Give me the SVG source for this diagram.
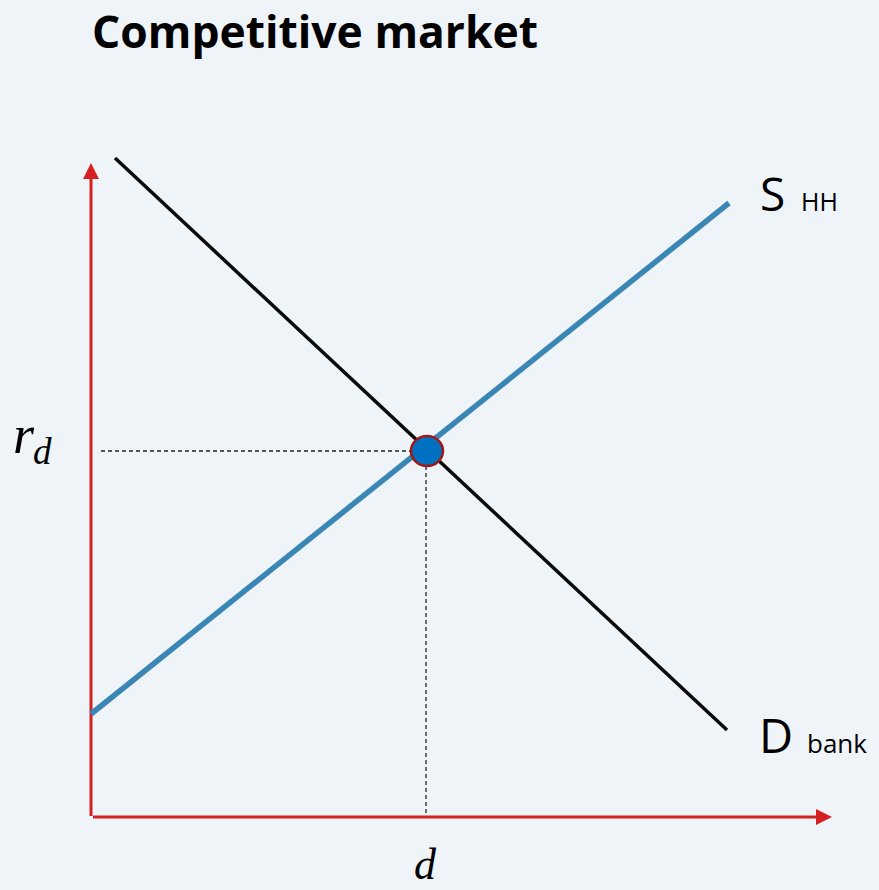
<svg xmlns="http://www.w3.org/2000/svg" width="879" height="890" viewBox="0 0 879 890">
<style>
.t{font-family:"Open Sans","Noto Sans","Liberation Sans",sans-serif;fill:#000}
.m{font-family:"Liberation Serif","DejaVu Serif",serif;font-style:italic;fill:#000}
.axis{stroke:#D42020;stroke-width:3;fill:none}
.dash{stroke:#222;stroke-width:1.3;stroke-dasharray:4 3;fill:none}
</style>
<defs>
<marker id="ah" markerWidth="16" markerHeight="16" refX="1" refY="8" orient="auto" markerUnits="userSpaceOnUse" viewBox="0 0 16 16">
<path d="M0,0 L16,8 L0,16 Z" fill="#D42020"/>
</marker>
</defs>
<rect width="879" height="890" fill="#EFF4F9"/>
<text id="title" class="t" x="92" y="48" font-size="44" font-weight="bold" textLength="446" lengthAdjust="spacingAndGlyphs">Competitive market</text>
<g id="connectors">
<line id="yaxis" class="axis" x1="91" y1="816" x2="91" y2="178" marker-end="url(#ah)"/>
<line id="xaxis" class="axis" x1="93" y1="817" x2="817" y2="817" marker-end="url(#ah)"/>
<line class="dash" x1="101" y1="451" x2="412" y2="451"/>
<line class="dash" x1="426" y1="466" x2="426" y2="816"/>
<line id="demand" x1="115" y1="158" x2="727" y2="730" stroke="#0A0A0A" stroke-width="3.5"/>
<line id="supply" x1="91" y1="714" x2="729" y2="203" stroke="#3A86B5" stroke-width="5.5"/>
</g>
<g id="equilibrium">
<ellipse cx="427" cy="451" rx="16" ry="15" fill="#0070C0" stroke="#A01818" stroke-width="2.5"/>
</g>
<g id="label-s">
<text class="t" x="760" y="211" font-size="46">S</text>
<text class="t" x="801" y="211" font-size="25">HH</text>
</g>
<g id="label-d">
<text class="t" x="759" y="753" font-size="47">D</text>
<text class="t" x="807" y="753" font-size="26">bank</text>
</g>
<g id="label-rd">
<text class="m" x="13" y="453" font-size="54">r</text>
<text class="m" x="33" y="464" font-size="37">d</text>
</g>
<g id="label-d-axis">
<text class="m" x="414" y="879" font-size="44">d</text>
</g>
</svg>
